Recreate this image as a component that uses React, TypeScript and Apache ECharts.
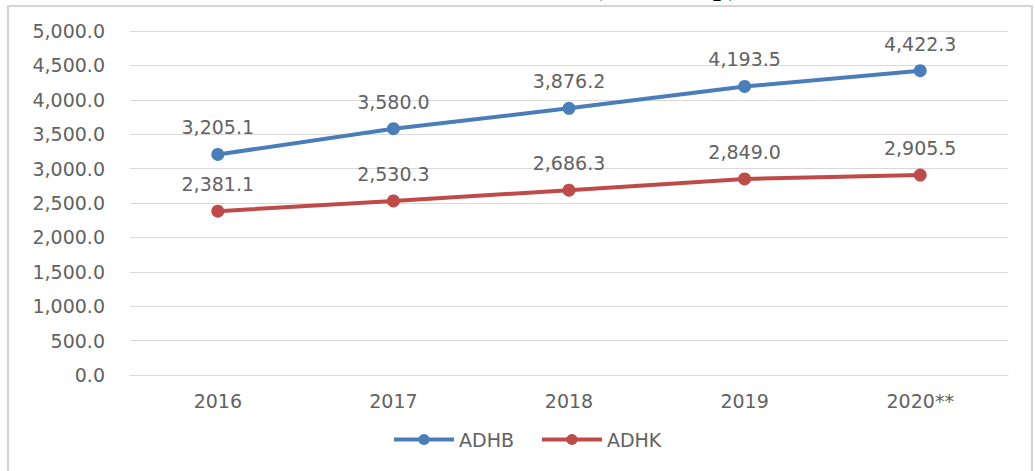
import React, { useEffect, useRef } from "react";
import * as echarts from "echarts";

const categories = ["2016", "2017", "2018", "2019", "2020**"];
const adhb = [3205.1, 3580.0, 3876.2, 4193.5, 4422.3];
const adhk = [2381.1, 2530.3, 2686.3, 2849.0, 2905.5];
const seriesNames = ["ADHB", "ADHK"];
const titleText = "(Triliun Rp)";

const FONT = "DejaVu Sans";
const TXT = "#626262";

const fmt = (v: number) =>
  v.toLocaleString("en-US", { minimumFractionDigits: 1, maximumFractionDigits: 1 });

export default function App() {
  const ref = useRef<HTMLDivElement>(null);
  useEffect(() => {
    document.body.style.margin = "0";
    const chart = echarts.init(ref.current!, undefined, { renderer: "svg" });
    const mkSeries = (name: string, data: number[], color: string) => ({
      name,
      type: "line",
      data,
      symbol: "circle",
      symbolSize: 13,
      lineStyle: { color, width: 4 },
      itemStyle: { color },
      label: {
        show: true,
        position: "top",
        distance: 11,
        color: TXT,
        fontFamily: FONT,
        fontSize: 19,
        formatter: (p: any) => fmt(p.value),
      },
    });
    chart.setOption({
      animation: false,
      backgroundColor: "#ffffff",
      graphic: [
        {
          type: "rect",
          shape: { x: 8, y: 6, width: 1024, height: 480 },
          style: { fill: "none", stroke: "#d4d4d4", lineWidth: 2 },
          silent: true,
        },
        {
          type: "text",
          x: 593,
          y: -1,
          style: {
            text: titleText,
            font: "bold 28px 'Liberation Serif'",
            fill: "#000000",
            textAlign: "left",
            textVerticalAlign: "bottom",
          },
          silent: true,
        },
      ],
      grid: { left: 130, right: 27, top: 31, bottom: 96, containLabel: false },
      legend: {
        data: seriesNames,
        bottom: 17,
        left: 387,
        itemWidth: 60,
        itemHeight: 14,
        itemGap: 26,
        lineStyle: { width: 4 },
        textStyle: { color: TXT, fontFamily: FONT, fontSize: 19 },
      },
      xAxis: {
        type: "category",
        data: categories,
        boundaryGap: true,
        axisLine: { show: true, lineStyle: { color: "#d9d9d9", width: 1 } },
        axisTick: { show: false },
        axisLabel: { color: TXT, fontFamily: FONT, fontSize: 19, margin: 16 },
      },
      yAxis: {
        type: "value",
        min: 0,
        max: 5000,
        interval: 500,
        axisLine: { show: false },
        axisTick: { show: false },
        splitLine: { lineStyle: { color: "#d9d9d9", width: 1 } },
        axisLabel: {
          color: TXT,
          fontFamily: FONT,
          fontSize: 19,
          margin: 25,
          formatter: (v: number) => fmt(v),
        },
      },
      series: [
        mkSeries(seriesNames[0], adhb, "#4a7ebb"),
        mkSeries(seriesNames[1], adhk, "#be4b48"),
      ],
    });
    return () => chart.dispose();
  }, []);
  return (
    <div
      ref={ref}
      style={{ position: "absolute", left: 0, top: 0, width: 1035, height: 471 }}
    />
  );
}
